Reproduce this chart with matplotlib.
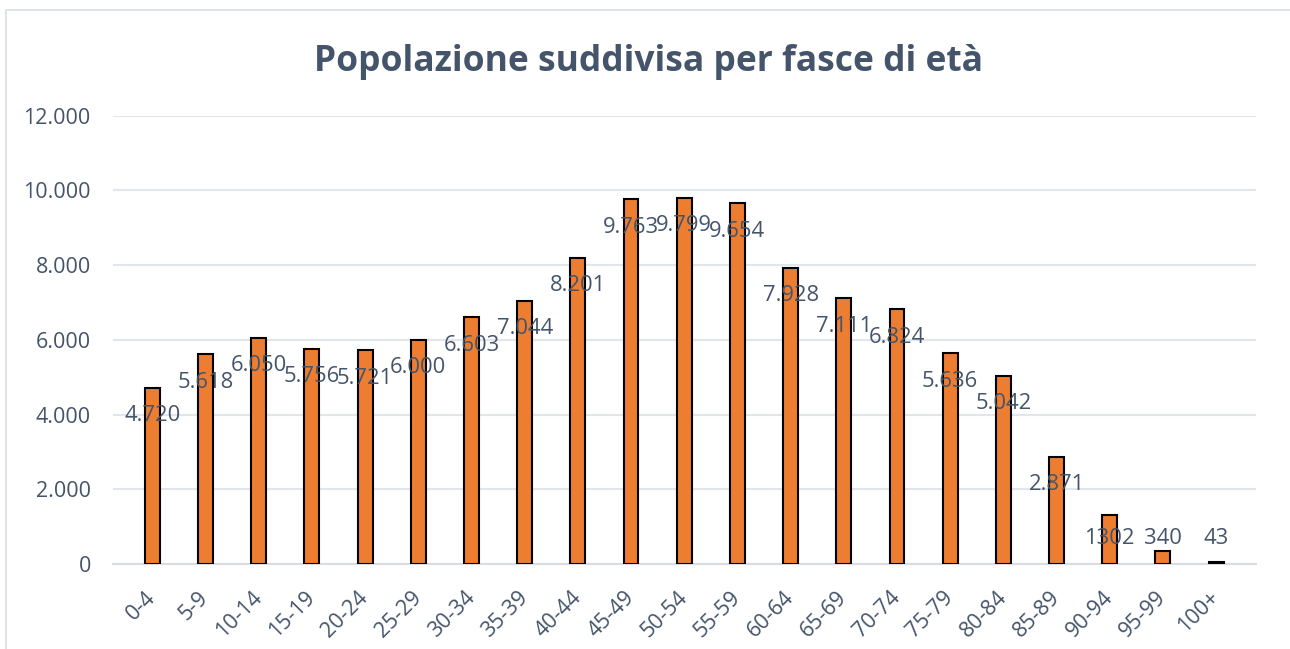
import matplotlib
matplotlib.use("Agg")
import matplotlib.pyplot as plt
from matplotlib.patches import Rectangle

categories = ["0-4", "5-9", "10-14", "15-19", "20-24", "25-29", "30-34", "35-39",
              "40-44", "45-49", "50-54", "55-59", "60-64", "65-69", "70-74", "75-79",
              "80-84", "85-89", "90-94", "95-99", "100+"]
values = [4720, 5618, 6050, 5756, 5721, 6000, 6603, 7044, 8201, 9763, 9799, 9654,
          7928, 7111, 6824, 5636, 5042, 2871, 1302, 340, 43]
value_labels = ["4.720", "5.618", "6.050", "5.756", "5.721", "6.000", "6.603", "7.044",
                "8.201", "9.763", "9.799", "9.654", "7.928", "7.111", "6.824", "5.636",
                "5.042", "2.871", "1302", "340", "43"]
yticks = [0, 2000, 4000, 6000, 8000, 10000, 12000]
ytick_labels = ["0", "2.000", "4.000", "6.000", "8.000", "10.000", "12.000"]
title = "Popolazione suddivisa per fasce di età"

TEXT = "#44546A"
FONT = "Open Sans"
plt.rcParams["font.family"] = [FONT, "DejaVu Sans"]

fig = plt.figure(figsize=(12.9, 6.49), dpi=100)
fig.patches.append(Rectangle((6 / 1290, -0.1), 1.2, 1 - 10 / 649 + 0.1,
                             transform=fig.transFigure, fill=False,
                             edgecolor="#D9DEE6", linewidth=1.2))
ax = fig.add_axes([113 / 1290, 1 - 564 / 649, (1256 - 113) / 1290, (564 - 115.7) / 649])

x = list(range(len(categories)))
ax.bar(x, values, width=0.28, color="#ED7D31", edgecolor="black", linewidth=1.5, zorder=3)

ax.set_xlim(-0.74, len(categories) - 1 + 0.75)
ax.set_ylim(0, 12000)
ax.set_yticks(yticks)
ax.set_yticklabels(ytick_labels)
ax.set_xticks(x)
ax.set_xticklabels(categories, rotation=45, ha="right", va="center", rotation_mode="anchor")
ax.grid(axis="y", color="#E1E5EC", linewidth=1.5, zorder=0)
for s in ["top", "right", "left"]:
    ax.spines[s].set_visible(False)
ax.spines["bottom"].set_color("#D9DDE3")
ax.spines["bottom"].set_linewidth(1.5)
ax.tick_params(axis="both", length=0, colors=TEXT, labelsize=15.5)
ax.tick_params(axis="y", pad=16)
ax.tick_params(axis="x", pad=22)

off = -28 * 72 / 100
clamp = 1445
for i, (v, lab) in enumerate(zip(values, value_labels)):
    ax.annotate(lab, xy=(i, max(v, clamp)), xytext=(0, off), textcoords="offset points",
                ha="center", va="center", fontsize=15.8, color=TEXT, zorder=4)

fig.text(0.503, 1 - 71 / 649, title, ha="center", va="baseline", fontsize=25.5,
         fontweight="bold", color=TEXT, fontfamily=["Open Sans", "DejaVu Sans"])

fig.savefig("out.png", dpi=100, facecolor="white")
